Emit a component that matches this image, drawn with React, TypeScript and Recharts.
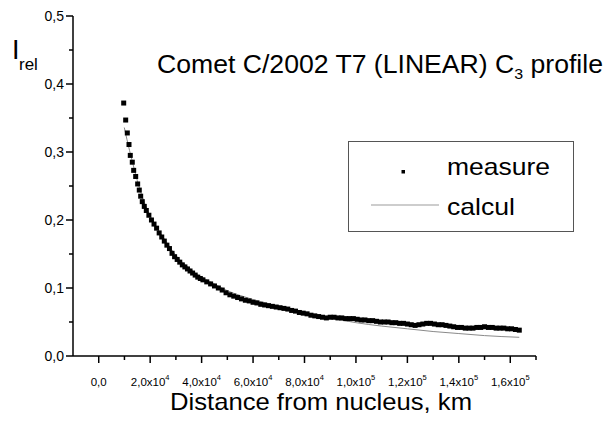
import React from "react";
import { ComposedChart, Scatter, Line, XAxis, YAxis } from "recharts";

// measured C3 profile (km, relative intensity)
const measureDist = [
  9710, 10480, 11110, 11770, 12270, 13050, 13590, 14370, 15140, 15770, 16310, 16930, 17710,
  18500, 19500, 20500, 21500, 22500, 23500, 24500, 25500, 26500, 27500, 28500, 29500, 30500,
  31500, 32500, 33500, 34500, 35500, 36500, 37500, 38500, 39500, 40500,
  42000, 43500, 45000, 46500, 48000, 49500, 51000, 52500, 54000, 55500, 57000, 58500, 60000,
  61500, 63000, 64500, 66000, 67500, 69000, 70500, 72000, 73500, 75000, 76500, 78000, 79500,
  81000, 82500, 84000, 85500, 87000, 88500, 90000, 91500, 93000, 94500, 96000, 97500, 99000,
  100500, 102000, 103500, 105000, 106500, 108000, 109500, 111000, 112500, 114000, 115500,
  117000, 118500, 120000, 121500, 123000, 124500, 126000, 127500, 129000, 130500, 132000,
  133500, 135000, 136500, 138000, 139500, 141000, 142500, 144000, 145500, 147000, 148500,
  150000, 151500, 153000, 154500, 156000, 157500, 159000, 160500, 162000, 163500,
];
const measureRel = [
  0.372, 0.347, 0.328, 0.311, 0.295, 0.285, 0.273, 0.264, 0.253, 0.244, 0.235, 0.227, 0.22,
  0.214, 0.207, 0.2, 0.194, 0.188, 0.181, 0.175, 0.169, 0.163, 0.158, 0.151, 0.146, 0.142,
  0.138, 0.134, 0.131, 0.128, 0.125, 0.122, 0.119, 0.116, 0.114, 0.112,
  0.109, 0.106, 0.103, 0.1, 0.097, 0.093, 0.09, 0.088, 0.086, 0.084, 0.082, 0.081, 0.079,
  0.078, 0.076, 0.075, 0.074, 0.073, 0.072, 0.071, 0.07, 0.069, 0.067, 0.066, 0.064, 0.063,
  0.062, 0.06, 0.059, 0.058, 0.057, 0.056, 0.057, 0.057, 0.056, 0.056, 0.055, 0.055, 0.055,
  0.054, 0.053, 0.053, 0.052, 0.052, 0.051, 0.05, 0.05, 0.05, 0.049, 0.049,
  0.048, 0.048, 0.047, 0.046, 0.045, 0.046, 0.047, 0.048, 0.048, 0.047, 0.046,
  0.046, 0.045, 0.044, 0.043, 0.042, 0.042, 0.041, 0.041, 0.041, 0.042, 0.042,
  0.043, 0.042, 0.042, 0.041, 0.041, 0.041, 0.04, 0.04, 0.039, 0.038,
];

// model curve
const calculDist = [
  9940, 11000, 12000, 13000, 14000, 15000, 16000, 17500, 19000, 20500, 22000, 23500, 25000,
  27500, 30000, 32500, 35000, 37500, 40000, 45000, 50000, 55000, 60000, 65000, 70000, 75000,
  80000, 90000, 100000, 110000, 120000, 130000, 140000, 150000, 163500,
];
const calculRel = [
  0.336, 0.318, 0.302, 0.287, 0.272, 0.258, 0.245, 0.228, 0.214, 0.202, 0.192, 0.183, 0.175,
  0.161, 0.148, 0.138, 0.13, 0.122, 0.116, 0.106, 0.096, 0.089, 0.083, 0.078, 0.073, 0.068,
  0.063, 0.056, 0.049, 0.044, 0.04, 0.036, 0.033, 0.03, 0.0275,
];

const xTicks = [0, 10000, 20000, 30000, 40000, 50000, 60000, 70000, 80000, 90000, 100000,
  110000, 120000, 130000, 140000, 150000, 160000, 170000];
const xMajor = [0, 20000, 40000, 60000, 80000, 100000, 120000, 140000, 160000];
const xMajorText = ["0,0", "2,0x10", "4,0x10", "6,0x10", "8,0x10", "1,0x10", "1,2x10", "1,4x10", "1,6x10"];
const xMajorExp = ["", "4", "4", "4", "4", "5", "5", "5", "5"];

const yTicks = [0, 0.05, 0.1, 0.15, 0.2, 0.25, 0.3, 0.35, 0.4, 0.45, 0.5];
const yMajorText = ["0,0", "0,1", "0,2", "0,3", "0,4", "0,5"];

const measure = measureDist.map((x, i) => ({ x, y: measureRel[i] }));
const calcul = calculDist.map((x, i) => ({ x, y: calculRel[i] }));

const FONT = "Arial, 'Liberation Sans', sans-serif";

const XTick = (props: any) => {
  const { x, y, payload } = props;
  const idx = xMajor.indexOf(payload.value);
  const major = idx >= 0;
  return (
    <g>
      <line x1={x} x2={x} y1={y} y2={y + (major ? 7 : 4)} stroke="#000" strokeWidth={1.5} />
      {major && (
        <text x={x} y={y + 30} textAnchor="middle" fontSize={11.5} fontFamily={FONT} fill="#000">
          {xMajorText[idx]}
          {xMajorExp[idx] && (
            <tspan dy={-6} fontSize={7.5}>{xMajorExp[idx]}</tspan>
          )}
        </text>
      )}
    </g>
  );
};

const YTick = (props: any) => {
  const { x, y, payload } = props;
  const k = Math.round(payload.value * 100);
  const major = k % 10 === 0;
  return (
    <g>
      <line x1={x} x2={x - (major ? 7 : 4)} y1={y} y2={y} stroke="#000" strokeWidth={1.5} />
      {major && (
        <text x={x - 9} y={y + 5} textAnchor="end" fontSize={14} fontFamily={FONT} fill="#000">
          {yMajorText[k / 10]}
        </text>
      )}
    </g>
  );
};

const Square = (props: any) => {
  const { cx, cy } = props;
  if (cx == null || cy == null) return null;
  return <rect x={cx - 2.5} y={cy - 2.5} width={5} height={5} fill="#000" />;
};

export default function App() {
  return (
    <div style={{ position: "absolute", left: 0, top: 0, width: 608, height: 428, background: "#fff" }}>
      <ComposedChart width={608} height={428} margin={{ top: 16, right: 72, bottom: 0, left: 0 }}>
        <XAxis
          type="number"
          dataKey="x"
          domain={[-10000, 170000]}
          ticks={xTicks}
          interval={0}
          tickSize={0}
          tickMargin={0}
          height={72}
          allowDataOverflow
          axisLine={{ stroke: "#000", strokeWidth: 1.5 }}
          tick={<XTick />}
        />
        <YAxis
          type="number"
          domain={[0, 0.5]}
          ticks={yTicks}
          interval={0}
          tickSize={0}
          tickMargin={0}
          width={73}
          allowDataOverflow
          axisLine={{ stroke: "#000", strokeWidth: 1.5 }}
          tick={<YTick />}
        />
        <Line
          data={calcul}
          dataKey="y"
          type="monotone"
          stroke="#8a8a8a"
          strokeWidth={1}
          dot={false}
          activeDot={false}
          isAnimationActive={false}
        />
        <Scatter data={measure} dataKey="y" shape={<Square />} isAnimationActive={false} />
      </ComposedChart>
      <svg
        width={608}
        height={428}
        style={{ position: "absolute", left: 0, top: 0, pointerEvents: "none" }}
      >
        <text x={12} y={59} fontSize={27} fontFamily={FONT} fill="#000">I</text>
        <text x={19} y={70} fontSize={17} fontFamily={FONT} fill="#000">rel</text>
        <text
          x={157}
          y={73}
          fontSize={25}
          fontFamily={FONT}
          fill="#000"
          textLength={446}
          lengthAdjust="spacingAndGlyphs"
        >
          Comet C/2002 T7 (LINEAR) C
          <tspan dy={6} fontSize={15}>3</tspan>
          <tspan dy={-6}> profile</tspan>
        </text>
        <text
          x={170}
          y={410}
          fontSize={24}
          fontFamily={FONT}
          fill="#000"
          textLength={302}
          lengthAdjust="spacingAndGlyphs"
        >
          Distance from nucleus, km
        </text>
        <g transform="translate(348,141)">
          <rect x={0.5} y={0.5} width={225} height={90} fill="#fff" stroke="#555" strokeWidth={1} />
          <rect x={53.5} y={29} width={3.5} height={3.5} fill="#000" />
          <text x={99} y={34} fontSize={24} fontFamily={FONT} fill="#000" textLength={103} lengthAdjust="spacingAndGlyphs">
            measure
          </text>
          <line x1={23} x2={91} y1={64} y2={64} stroke="#bdbdbd" strokeWidth={1.5} />
          <text x={99} y={74} fontSize={24} fontFamily={FONT} fill="#000" textLength={68} lengthAdjust="spacingAndGlyphs">
            calcul
          </text>
        </g>
      </svg>
    </div>
  );
}
